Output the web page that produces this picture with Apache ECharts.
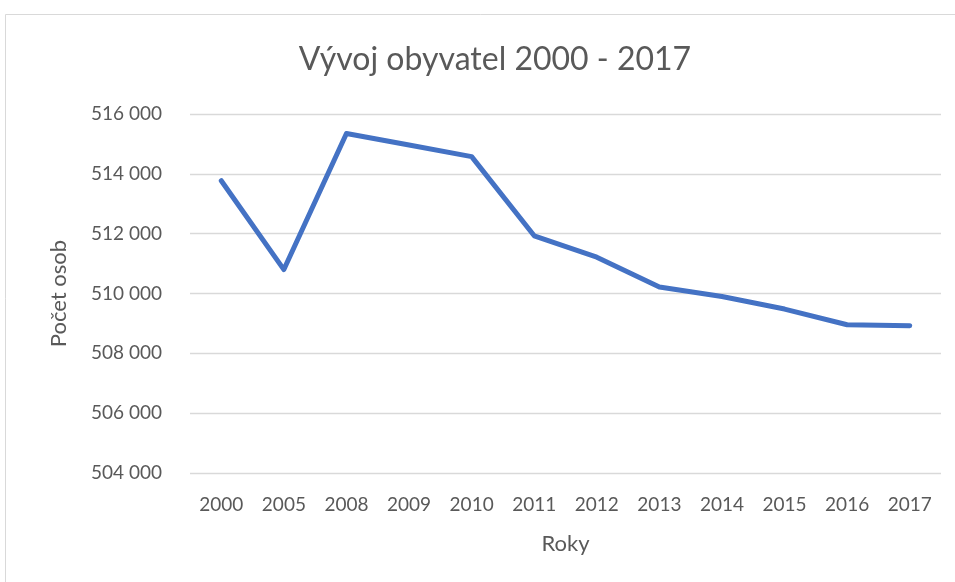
<!DOCTYPE html>
<html>
<head>
<meta charset="utf-8">
<script src="https://cdn.jsdelivr.net/npm/echarts@6/dist/echarts.min.js"></script>
<style>html,body{margin:0;padding:0;background:#fff}#c{width:955px;height:582px}</style>
</head>
<body>
<div id="c"></div>
<script>
const years = ['2000','2005','2008','2009','2010','2011','2012','2013','2014','2015','2016','2017'];
const population = [513770, 510800, 515350, 514965, 514575, 511930, 511215, 510215, 509900, 509480, 508955, 508920];
const yMin = 504000, yMax = 516000, yStep = 2000;
const titleText = 'Vývoj obyvatel 2000 - 2017';
const xName = 'Roky', yName = 'Počet osob';

const chart = echarts.init(document.getElementById('c'), null, {renderer:'canvas'});
const font = 'Lato, "Open Sans", sans-serif';
chart.setOption({
  animation: false,
  backgroundColor: '#fff',
  graphic: [{type:'rect', shape:{x:5.5, y:14.5, width:960, height:570}, style:{fill:'none', stroke:'#d9d9d9', lineWidth:1}, silent:true}],
  title: {text: titleText, left: 490, textAlign:'center', top: 39, textStyle:{fontFamily:font, fontSize:32, fontWeight:'normal', color:'#595959'}},
  grid: {left:190, right:14, top:114, bottom:109},
  xAxis: {type:'category', data: years, boundaryGap:true,
    name: xName, nameLocation:'middle', nameGap:60, nameTextStyle:{fontFamily:font, fontSize:22, color:'#595959'},
    axisLine:{show:false}, axisTick:{show:false},
    axisLabel:{fontFamily:font, fontSize:19, color:'#595959', margin:22}},
  yAxis: {type:'value', min:yMin, max:yMax, interval:yStep,
    name: yName, nameLocation:'middle', nameGap:120, nameTextStyle:{fontFamily:font, fontSize:22, color:'#595959'},
    axisLine:{show:false}, axisTick:{show:false},
    splitLine:{lineStyle:{color:'#d9d9d9', width:1.3}},
    axisLabel:{fontFamily:font, fontSize:19, color:'#595959', margin:28,
      formatter: v => String(v).replace(/\B(?=(\d{3})+(?!\d))/g, ' ')}},
  series: [{type:'line', data: population, showSymbol:false, symbol:'none',
    lineStyle:{color:'#4472C4', width:5, cap:'round', join:'round'}}]
});
</script>
</body>
</html>
